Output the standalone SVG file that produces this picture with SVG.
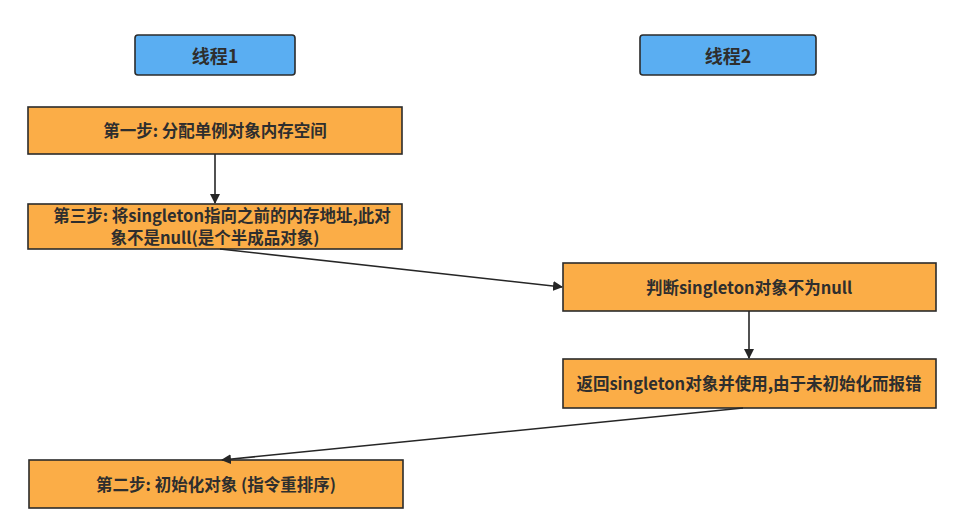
<svg xmlns="http://www.w3.org/2000/svg" width="978" height="527" viewBox="0 0 978 527">
<style>
.hdr{fill:#5aaef2;stroke:#2b2b2b;stroke-width:1.6}
.box{fill:#fbad47;stroke:#2b2b2b;stroke-width:1.6}
text{font-family:"Noto Sans CJK SC","Noto Sans",sans-serif;font-weight:bold;fill:#2e2e2e;text-anchor:middle;dominant-baseline:central}
.h{font-size:18px}
.t{font-size:16.5px}
.c{stroke:#262626;stroke-width:1.6;fill:none;marker-end:url(#ah)}
</style>
<defs>
<marker id="ah" viewBox="0 0 10 10" refX="9" refY="5" markerWidth="10" markerHeight="10" markerUnits="userSpaceOnUse" orient="auto">
<path d="M0,0 L10,5 L0,10 Z" fill="#262626"/>
</marker>
</defs>
<rect width="978" height="527" fill="#ffffff"/>
<g id="thread1"><rect class="hdr" x="135" y="35" width="160" height="40" rx="3"/><text class="h" x="215" y="55">线程1</text></g>
<g id="thread2"><rect class="hdr" x="640" y="35" width="176" height="40" rx="3"/><text class="h" x="728" y="55">线程2</text></g>
<g id="step1"><rect class="box" x="28" y="107" width="374" height="47"/><text class="t" x="215" y="130">第一步: 分配单例对象内存空间</text></g>
<g id="step3"><rect class="box" x="28" y="204" width="374" height="45"/><text class="t" x="222" y="215">第三步: 将singleton指向之前的内存地址,此对</text><text class="t" x="215" y="237">象不是null(是个半成品对象)</text></g>
<g id="check"><rect class="box" x="563" y="263" width="373" height="48"/><text class="t" x="749" y="287">判断singleton对象不为null</text></g>
<g id="use"><rect class="box" x="563" y="359" width="373" height="49"/><text class="t" x="749" y="383">返回singleton对象并使用,由于未初始化而报错</text></g>
<g id="step2"><rect class="box" x="29" y="460" width="374" height="48"/><text class="t" x="216" y="484">第二步: 初始化对象 (指令重排序)</text></g>
<g id="connectors">
<line class="c" x1="215" y1="154" x2="215" y2="203"/>
<line class="c" x1="220" y1="249" x2="562" y2="287"/>
<line class="c" x1="749" y1="311" x2="749" y2="358"/>
<line class="c" x1="743" y1="408" x2="222" y2="460"/>
</g>
</svg>
